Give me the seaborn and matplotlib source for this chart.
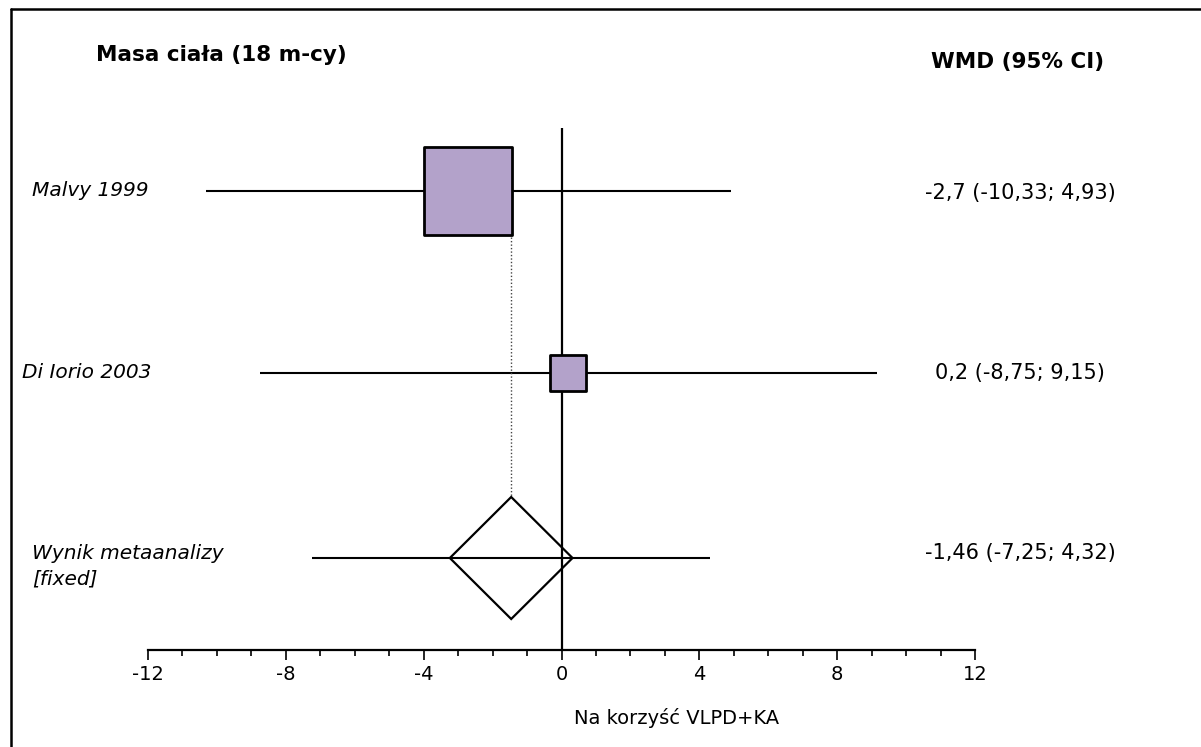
import matplotlib
matplotlib.use("Agg")
import matplotlib.pyplot as plt
from matplotlib.ticker import MultipleLocator
from matplotlib.patches import Polygon
from matplotlib.lines import Line2D
import seaborn as sns
import pandas as pd

# ---- data -------------------------------------------------------------
studies = ["Malvy 1999", "Di Iorio 2003"]
study_wmd = [-2.7, 0.2]
study_lo = [-10.33, -8.75]
study_hi = [4.93, 9.15]

pooled_label = "Wynik metaanalizy\n[fixed]"
pooled_wmd = -1.46
pooled_lo = -7.25
pooled_hi = 4.32
pooled_diamond = (-3.24, 0.32)   # extent of the pooled diamond

value_labels = ["-2,7 (-10,33; 4,93)", "0,2 (-8,75; 9,15)", "-1,46 (-7,25; 4,32)"]
tick_values = list(range(-12, 13, 4))

# ---- layout (pixels of a 1201 x 747 canvas) ---------------------------
W, H = 1201, 747
row_y = [191, 373, 558]          # vertical centre of each row
box_px = [88, 36]                # side of each study square
diamond_half_h = 61

sns.set_theme(style="white")
plt.rcParams["font.family"] = ["DejaVu Sans"]
plt.rcParams["text.color"] = "black"
plt.rcParams["xtick.color"] = "black"
plt.rcParams["axes.labelcolor"] = "black"

fig = plt.figure(figsize=(W / 100, H / 100), dpi=100)
ax = fig.add_axes([148 / W, (H - 650) / H, (975 - 148) / W, 650 / H])
ax.set_xlim(-12, 12)
ax.set_ylim(650, 0)
ax.patch.set_alpha(0)

def fx(px):
    return px / W

def fy(py):
    return 1 - py / H

# confidence intervals
ax.hlines(row_y[:2], study_lo, study_hi, color="black", lw=1.5, zorder=2)
ax.hlines(row_y[2], pooled_lo, pooled_hi, color="black", lw=1.5, zorder=2)

# line of no effect
ax.vlines(0, 128, 650, color="black", lw=1.6, zorder=3)

# pooled estimate reference line
ax.vlines(pooled_wmd, row_y[0] + box_px[0] / 2 + 2, row_y[2] - diamond_half_h,
          color="#444444", lw=1.0, linestyles=(0, (1, 1.5)), zorder=4)

# study squares
df = pd.DataFrame({"study": studies, "wmd": study_wmd, "y": row_y[:2]})
sizes = {s: (b * 0.72) ** 2 for s, b in zip(studies, box_px)}
sns.scatterplot(data=df, x="wmd", y="y", size="study", sizes=sizes, marker="s",
                color="#B3A2CA", edgecolor="black", linewidth=2.0,
                legend=False, ax=ax, zorder=5, clip_on=False)

# pooled diamond
dl, dr = pooled_diamond
ax.add_patch(Polygon([(dl, row_y[2]), (pooled_wmd, row_y[2] - diamond_half_h),
                      (dr, row_y[2]), (pooled_wmd, row_y[2] + diamond_half_h)],
                     closed=True, fill=False, edgecolor="black", lw=1.6, zorder=5))

# x axis
for side in ["top", "left", "right"]:
    ax.spines[side].set_visible(False)
ax.spines["bottom"].set_linewidth(1.6)
ax.spines["bottom"].set_color("black")
ax.set_yticks([])
ax.set_ylabel("")
ax.set_xlabel("")
ax.set_xticks(tick_values)
ax.set_xticklabels([str(t) for t in tick_values])
ax.xaxis.set_minor_locator(MultipleLocator(1))
ax.tick_params(axis="x", which="major", direction="out", length=7.5, width=1.2,
               color="black", labelsize=14, pad=3, bottom=True)
ax.tick_params(axis="x", which="minor", direction="out", length=4.5, width=1.2,
               color="black", bottom=True)

# texts
fig.text(fx(96), fy(55), "Masa ciała (18 m-cy)", fontsize=15.5, fontweight="bold",
         ha="left", va="center")
fig.text(fx(1018), fy(62), "WMD (95% CI)", fontsize=15.5, fontweight="bold",
         ha="center", va="center")
fig.text(fx(677), fy(718), "Na korzyść VLPD+KA", fontsize=14, ha="center", va="center")

name_x = [32, 22]
for name, x, y in zip(studies, name_x, row_y[:2]):
    fig.text(fx(x), fy(y), name, fontsize=14.5, style="italic", ha="left", va="center")
fig.text(fx(32), fy(566), pooled_label, fontsize=14.5, style="italic",
         ha="left", va="center", linespacing=1.45)

value_y = [193, 373, 553]
for lab, y in zip(value_labels, value_y):
    fig.text(fx(1020), fy(y), lab, fontsize=15, ha="center", va="center")

# frame on the top and left edges
fig.add_artist(Line2D([fx(10.5), 1.0], [fy(8.5), fy(8.5)], color="black", lw=1.8))
fig.add_artist(Line2D([fx(10.5), fx(10.5)], [fy(8.5), 0.0], color="black", lw=1.8))

fig.savefig("out.png", dpi=100)
